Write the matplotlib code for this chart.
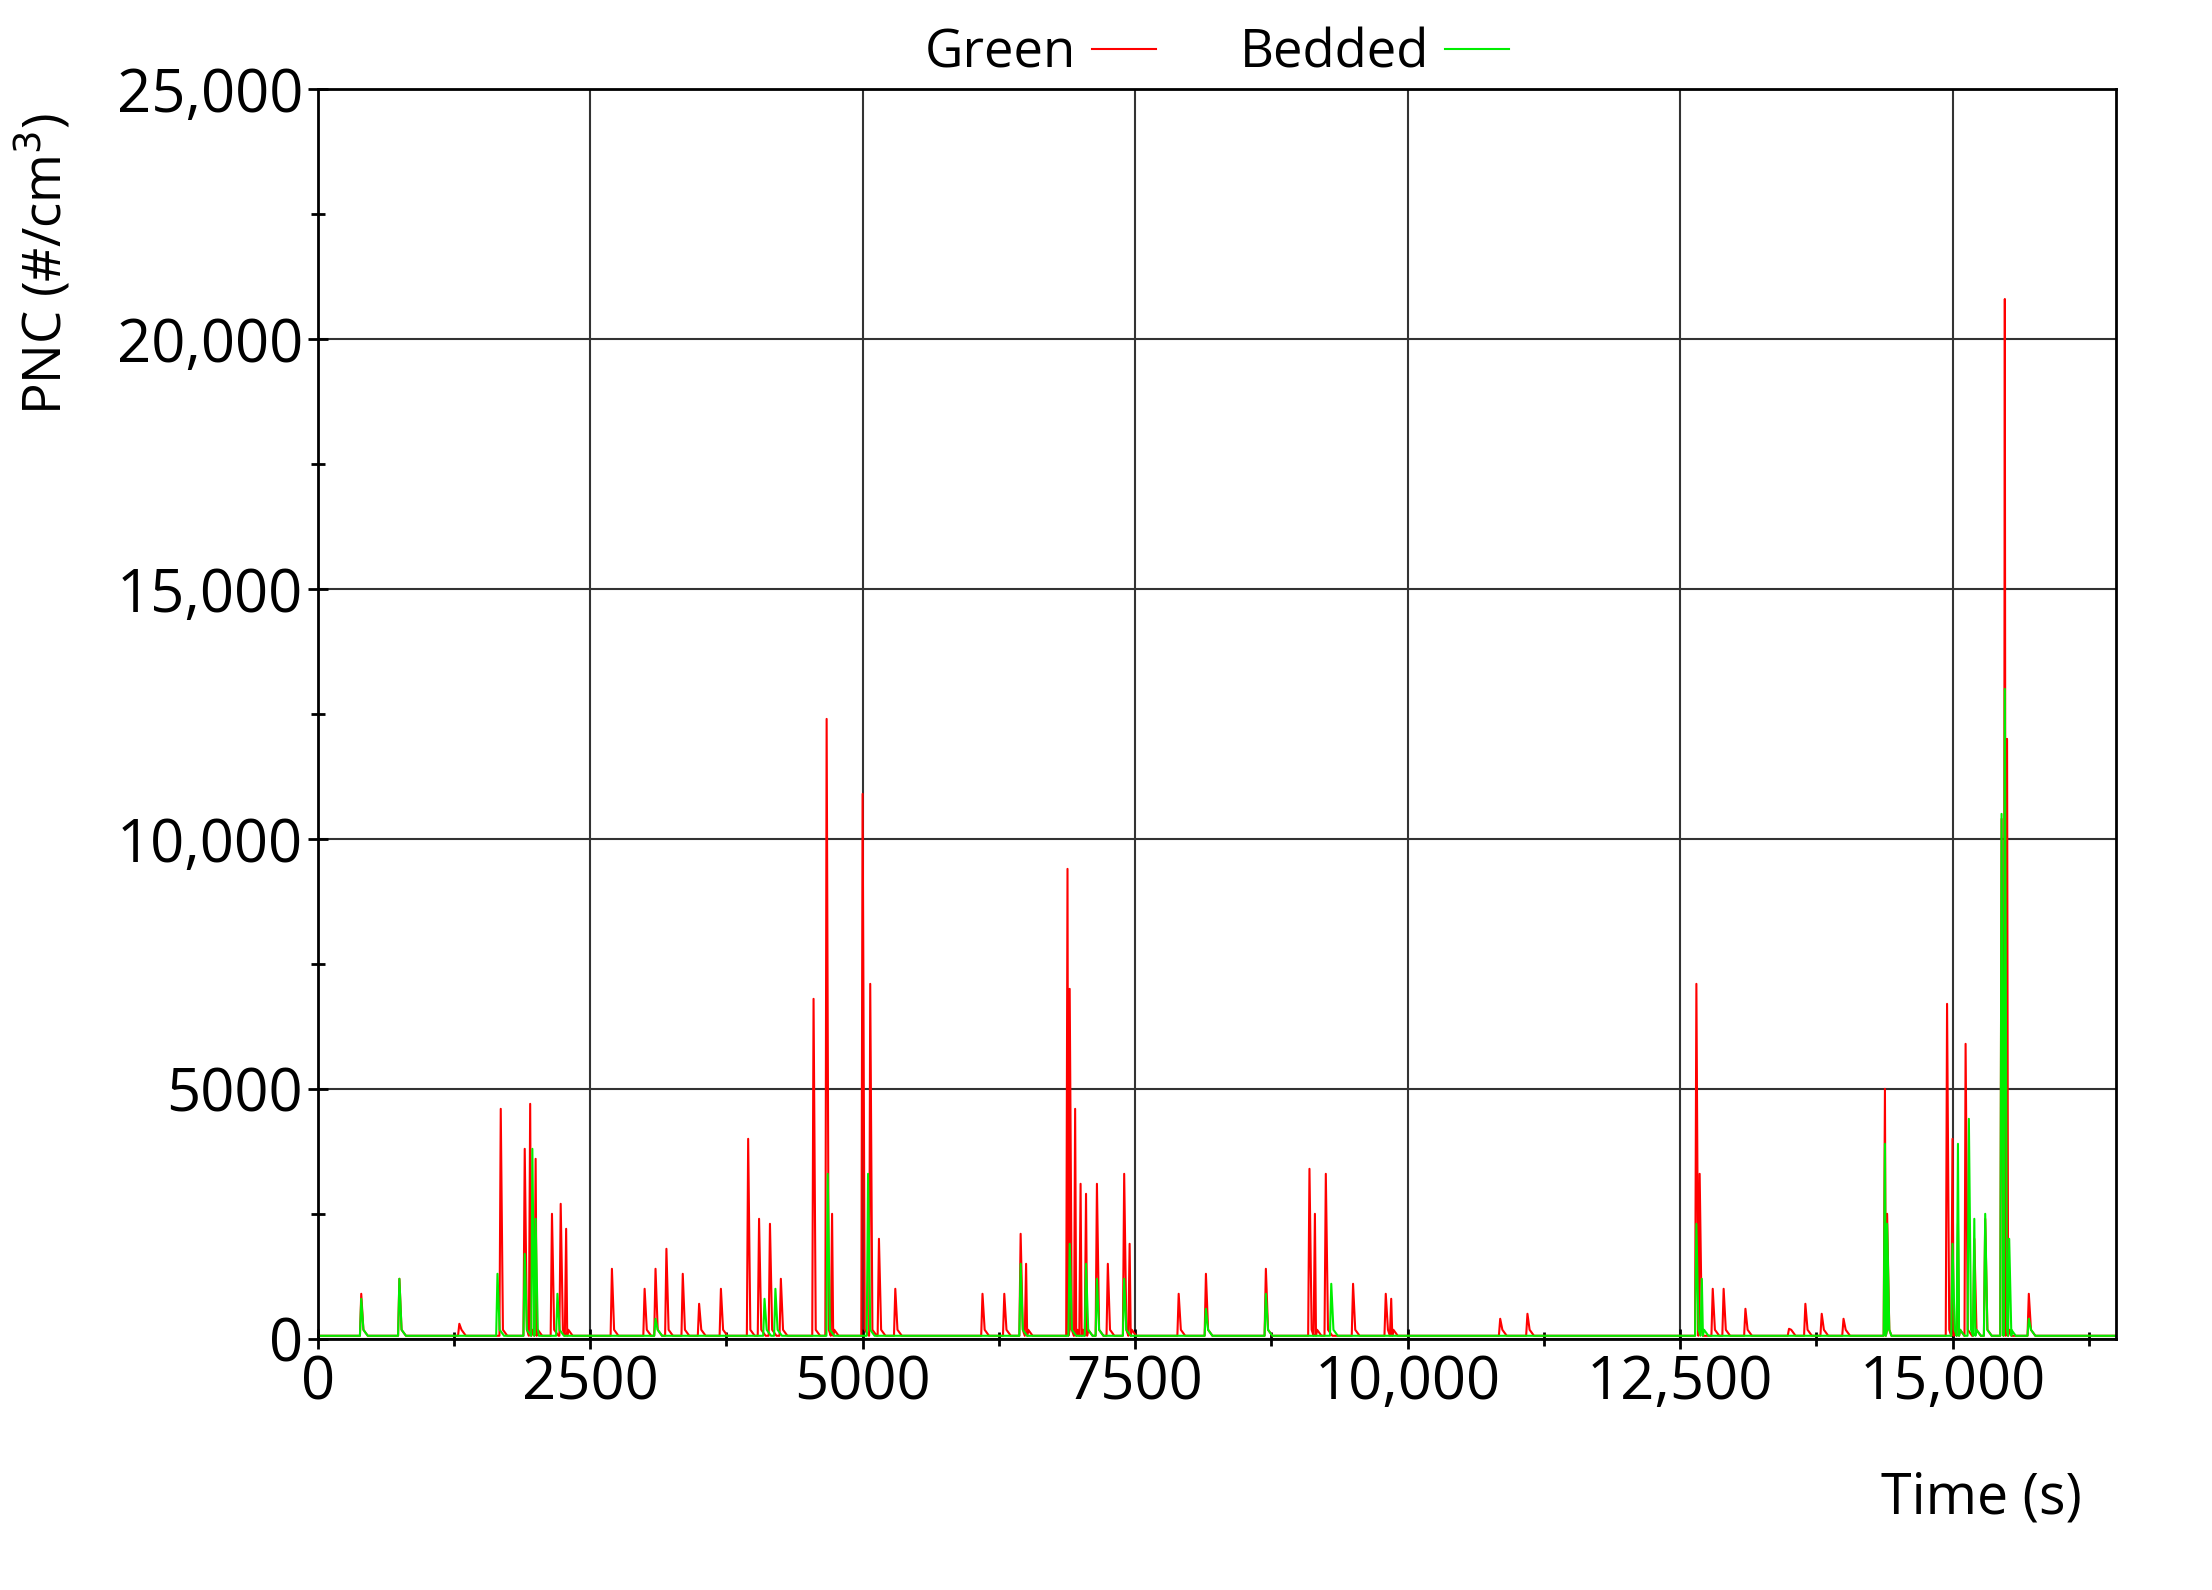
import matplotlib.pyplot as plt
from matplotlib.ticker import FuncFormatter, MultipleLocator

plt.rcParams['font.family'] = ['Open Sans', 'DejaVu Sans']

# spike times (s) and peak PNC (#/cm3)
green_t = [400, 750, 1300, 1680, 1900, 1950, 2000, 2150, 2230, 2280, 2700, 3000, 3100, 3200,
           3350, 3500, 3700, 3950, 4050, 4150, 4250, 4550, 4670, 4720, 5000, 5070, 5150, 5300,
           6100, 6300, 6450, 6500, 6880, 6900, 6950, 7000, 7050, 7150, 7250, 7400, 7450, 7900,
           8150, 8700, 9100, 9150, 9250, 9500, 9800, 9850, 10850, 11100, 12650, 12680, 12800,
           12900, 13100, 13500, 13650, 13800, 14000, 14380, 14400, 14950, 15000, 15050, 15120,
           15200, 15300, 15450, 15480, 15500, 15700]
green_v = [900, 1200, 300, 4600, 3800, 4700, 3600, 2500, 2700, 2200, 1400, 1000, 1400, 1800,
           1300, 700, 1000, 4000, 2400, 2300, 1200, 6800, 12400, 2500, 10900, 7100, 2000, 1000,
           900, 900, 2100, 1500, 9400, 7000, 4600, 3100, 2900, 3100, 1500, 3300, 1900, 900,
           1300, 1400, 3400, 2500, 3300, 1100, 900, 800, 400, 500, 7100, 3300, 1000,
           1000, 600, 200, 700, 500, 400, 5000, 2500, 6700, 4000, 2300, 5900,
           2000, 2400, 10400, 20800, 12000, 900]

bedded_t = [400, 750, 1650, 1900, 1970, 2000, 2200, 3100, 4100, 4200, 4680, 5050, 6450, 6900,
            7050, 7150, 7400, 8150, 8700, 9300, 12650, 12700, 14380, 14400, 15000, 15050, 15150,
            15200, 15300, 15450, 15480, 15520, 15700]
bedded_v = [800, 1200, 1300, 1700, 3800, 2400, 900, 400, 800, 1000, 3300, 3300, 1500, 1900,
            1500, 1200, 1200, 600, 900, 1100, 2300, 1200, 3900, 2300, 1900, 3900, 4400,
            2400, 2500, 10500, 13000, 2000, 400]

BASE = 60


def trace(ts, vs):
    pts = [(0, BASE), (16500, BASE)]
    for t, v in zip(ts, vs):
        pts += [(t - 12, BASE), (t, v), (t + 20, BASE * 3), (t + 60, BASE)]
    pts.sort()
    return [p[0] for p in pts], [p[1] for p in pts]


fig = plt.figure(figsize=(22.12, 15.9), dpi=100)
ax = fig.add_axes([0.1436, 0.158, 0.813, 0.786])

gx, gy = trace(green_t, green_v)
bx, by = trace(bedded_t, bedded_v)
ax.plot(gx, gy, color='#ff0000', lw=1.5, label='Green')
ax.plot(bx, by, color='#00ee00', lw=1.5, label='Bedded')

ax.set_xlim(0, 16500)
ax.set_ylim(0, 25000)
ax.xaxis.set_major_locator(MultipleLocator(2500))
ax.xaxis.set_minor_locator(MultipleLocator(1250))
ax.yaxis.set_major_locator(MultipleLocator(5000))
ax.yaxis.set_minor_locator(MultipleLocator(2500))


def fmt(v, pos):
    v = int(v)
    return f'{v:,}' if v >= 10000 else str(v)


ax.xaxis.set_major_formatter(FuncFormatter(fmt))
ax.yaxis.set_major_formatter(FuncFormatter(fmt))
ax.grid(True, which='major', color='#333333', lw=1.5)
ax.tick_params(which='both', direction='inout', length=14, width=2, labelsize=43)
ax.tick_params(which='minor', length=10)
for s in ax.spines.values():
    s.set_linewidth(2)

ax.set_ylabel('PNC (#/cm$^3$)', fontsize=38)
ax.yaxis.set_label_coords(-0.135, 0.86)
ax.set_xlabel('Time (s)', fontsize=40)
ax.xaxis.set_label_coords(0.925, -0.105)

ax.legend(loc='lower center', bbox_to_anchor=(0.5, 0.99), ncol=2, frameon=False,
          markerfirst=False, fontsize=38, handlelength=1.2, columnspacing=1.6,
          handletextpad=0.3, borderaxespad=0)

fig.savefig('out.png', dpi=100, facecolor='white')
